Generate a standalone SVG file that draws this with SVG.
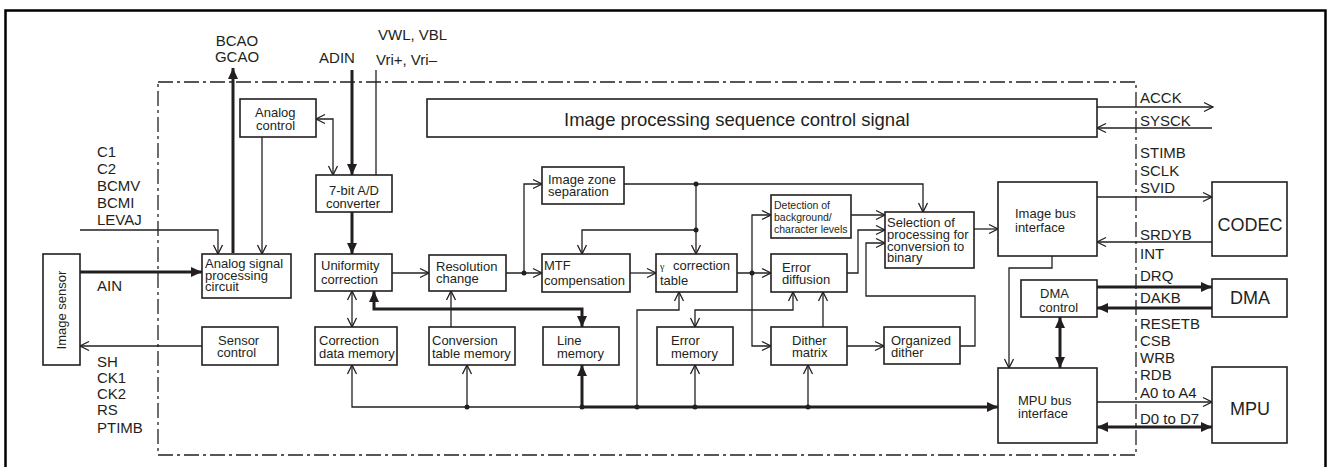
<svg xmlns="http://www.w3.org/2000/svg" width="1329" height="469" viewBox="0 0 1329 469">
<defs>
<style>
.box{fill:#fff;stroke:#231f20;stroke-width:1.6}
.t{font-family:"Liberation Sans",Arial,sans-serif;font-size:13px;fill:#231f20}
.s{font-family:"Liberation Sans",Arial,sans-serif;font-size:10.5px;fill:#231f20}
.l{font-family:"Liberation Sans",Arial,sans-serif;font-size:15px;fill:#231f20}
.b{font-family:"Liberation Sans",Arial,sans-serif;font-size:18px;fill:#231f20}
.big{font-family:"Liberation Sans",Arial,sans-serif;font-size:18.5px;fill:#231f20}
.g{font-family:"Liberation Serif","Times New Roman",serif;font-size:10px}
.thin{fill:none;stroke:#231f20;stroke-width:1.3}
.thick{fill:none;stroke:#231f20;stroke-width:3}
.oa{marker-end:url(#open)}
.oab{marker-start:url(#open);marker-end:url(#open)}
.fa{marker-end:url(#fill)}
.fab{marker-start:url(#fill);marker-end:url(#fill)}
.dot{fill:#231f20}
</style>
<marker id="open" viewBox="-11 -6 13 12" refX="0" refY="0" markerWidth="13" markerHeight="12" markerUnits="userSpaceOnUse" orient="auto-start-reverse">
<path d="M-9,-4.5 L0,0 L-9,4.5" fill="none" stroke="#231f20" stroke-width="1.3"/>
</marker>
<marker id="fill" viewBox="-12 -6 13 12" refX="0" refY="0" markerWidth="13" markerHeight="12" markerUnits="userSpaceOnUse" orient="auto-start-reverse">
<path d="M-11,-5 L0,0 L-11,5 Z" fill="#231f20"/>
</marker>
</defs>

<g id="frame">
<path d="M5.5,467 V10.5 H1325.5 V467" fill="none" stroke="#000" stroke-width="2.5"/>
<rect x="158" y="82" width="978" height="373" fill="none" stroke="#231f20" stroke-width="1.3" stroke-dasharray="15 4 3 4"/>
</g>

<g id="labels">
<text class="l" x="237" y="46" text-anchor="middle">BCAO</text>
<text class="l" x="237" y="62" text-anchor="middle">GCAO</text>
<text class="l" x="337" y="63" text-anchor="middle">ADIN</text>
<text class="l" x="378" y="40">VWL, VBL</text>
<text class="l" x="376" y="65">Vri+, Vri–</text>
<text class="l" x="97" y="157">C1</text>
<text class="l" x="97" y="174">C2</text>
<text class="l" x="97" y="191">BCMV</text>
<text class="l" x="97" y="208">BCMI</text>
<text class="l" x="97" y="225">LEVAJ</text>
<text class="l" x="97" y="291">AIN</text>
<text class="l" x="97" y="367">SH</text>
<text class="l" x="97" y="383">CK1</text>
<text class="l" x="97" y="399">CK2</text>
<text class="l" x="97" y="415">RS</text>
<text class="l" x="97" y="433">PTIMB</text>
<text class="l" x="1140" y="103">ACCK</text>
<text class="l" x="1140" y="126">SYSCK</text>
<text class="l" x="1140" y="158">STIMB</text>
<text class="l" x="1140" y="176">SCLK</text>
<text class="l" x="1140" y="193">SVID</text>
<text class="l" x="1140" y="240">SRDYB</text>
<text class="l" x="1140" y="259">INT</text>
<text class="l" x="1140" y="281">DRQ</text>
<text class="l" x="1140" y="303">DAKB</text>
<text class="l" x="1140" y="329">RESETB</text>
<text class="l" x="1140" y="346">CSB</text>
<text class="l" x="1140" y="363">WRB</text>
<text class="l" x="1140" y="380">RDB</text>
<text class="l" x="1140" y="398">A0 to A4</text>
<text class="l" x="1140" y="424">D0 to D7</text>
</g>

<g id="connectors">
<path class="thick fa" d="M233,253 V68"/>
<path class="thick fa" d="M352,70 V175"/>
<path class="thin" d="M376,70 V175"/>
<path class="thin oab" d="M316,119 H333 V175"/>
<path class="thin oa" d="M262,137 V254"/>
<path class="thin oa" d="M80,230 H218 V254"/>
<path class="thick fa" d="M80,272 H202"/>
<path class="thin oa" d="M202,346 H80"/>
<path class="thick fa" d="M352,212 V254"/>
<path class="thin oab" d="M352,291 V327"/>
<path class="thick fab" d="M374,291 V309 H582 V327"/>
<path class="thin oa" d="M392,273 H429"/>
<path class="thin oa" d="M451,327 V291"/>
<path class="thin oa" d="M506,273 H542"/>
<path class="thin oa" d="M524,273 V184 H542"/>
<path class="thin oa" d="M624,184 H923 V212"/>
<path class="thin oa" d="M696,184 V254"/>
<path class="thin oa" d="M696,230 H582 V254"/>
<path class="thin oa" d="M630,273 H656"/>
<path class="thin oa" d="M737,273 H771"/>
<path class="thin oa" d="M752,273 V215 H771"/>
<path class="thin oa" d="M752,273 V346 H771"/>
<path class="thin oa" d="M851,215 H885"/>
<path class="thin oa" d="M847,273 H858 V230 H885"/>
<path class="thin oa" d="M847,346 H884"/>
<path class="thin oa" d="M960,346 H975 V296 H866 V243 H885"/>
<path class="thin oa" d="M823,327 V292"/>
<path class="thin oab" d="M695,327 V310 H793 V292"/>
<path class="thin" d="M352,365 V407 H582" marker-start="url(#open)"/>
<path class="thin oa" d="M467,407 V365"/>
<path class="thick fa" d="M582,407 H998"/>
<path class="thick fa" d="M582,407 V365"/>
<path class="thin oa" d="M637,407 V310 H679 V292"/>
<path class="thin oa" d="M695,407 V365"/>
<path class="thin oa" d="M808,407 V365"/>
<path class="thin oa" d="M974,229 H998"/>
<path class="thin oa" d="M1052,256 V268 H1009 V368"/>
<path class="thick fab" d="M1060,317 V368"/>
<path class="thin oa" d="M1097,107 H1213"/>
<path class="thin oa" d="M1212,128 H1097"/>
<path class="thin oa" d="M1097,197 H1212"/>
<path class="thin oa" d="M1212,242 H1097"/>
<path class="thick fa" d="M1097,287 H1212"/>
<path class="thick fa" d="M1212,308 H1097"/>
<path class="thin oa" d="M1097,402 H1212"/>
<path class="thick fab" d="M1097,427 H1212"/>
<circle class="dot" cx="524" cy="273" r="2.5"/>
<circle class="dot" cx="696" cy="184" r="2.5"/>
<circle class="dot" cx="696" cy="230" r="2.5"/>
<circle class="dot" cx="752" cy="273" r="2.5"/>
<circle class="dot" cx="467" cy="407" r="2.5"/>
<circle class="dot" cx="582" cy="407" r="2.5"/>
<circle class="dot" cx="637" cy="407" r="2.5"/>
<circle class="dot" cx="695" cy="407" r="2.5"/>
<circle class="dot" cx="808" cy="407" r="2.5"/>
</g>

<g id="image-sensor">
<rect class="box" x="43" y="254" width="37" height="111"/>
<text class="t" transform="translate(66,310) rotate(-90)" text-anchor="middle">Image sensor</text>
</g>
<g id="analog-control">
<rect class="box" x="240" y="99" width="76" height="38"/>
<text class="t" x="255" y="117">Analog</text>
<text class="t" x="256" y="130">control</text>
</g>
<g id="ad-converter">
<rect class="box" x="316" y="175" width="76" height="37"/>
<text class="t" x="354" y="195" text-anchor="middle">7-bit A/D</text>
<text class="t" x="353" y="208" text-anchor="middle">converter</text>
</g>
<g id="analog-signal">
<rect class="box" x="202" y="254" width="89" height="44"/>
<text class="t" x="205" y="268">Analog signal</text>
<text class="t" x="205" y="280">processing</text>
<text class="t" x="205" y="291">circuit</text>
</g>
<g id="sensor-control">
<rect class="box" x="202" y="327" width="76" height="38"/>
<text class="t" x="218" y="345">Sensor</text>
<text class="t" x="217" y="357">control</text>
</g>
<g id="uniformity">
<rect class="box" x="315" y="254" width="77" height="37"/>
<text class="t" x="321" y="270">Uniformity</text>
<text class="t" x="321" y="284">correction</text>
</g>
<g id="correction-memory">
<rect class="box" x="315" y="327" width="82" height="38"/>
<text class="t" x="319" y="345">Correction</text>
<text class="t" x="319" y="358">data memory</text>
</g>
<g id="resolution">
<rect class="box" x="429" y="255" width="77" height="36"/>
<text class="t" x="436" y="271">Resolution</text>
<text class="t" x="436" y="283">change</text>
</g>
<g id="conversion-memory">
<rect class="box" x="429" y="327" width="86" height="38"/>
<text class="t" x="432" y="345">Conversion</text>
<text class="t" x="432" y="358">table memory</text>
</g>
<g id="line-memory">
<rect class="box" x="543" y="327" width="76" height="38"/>
<text class="t" x="557" y="345">Line</text>
<text class="t" x="557" y="358">memory</text>
</g>
<g id="image-zone">
<rect class="box" x="542" y="167" width="82" height="37"/>
<text class="t" x="548" y="184">Image zone</text>
<text class="t" x="548" y="196">separation</text>
</g>
<g id="mtf">
<rect class="box" x="542" y="254" width="88" height="38"/>
<text class="t" x="544" y="270">MTF</text>
<text class="t" x="544" y="285">compensation</text>
</g>
<g id="gamma">
<rect class="box" x="656" y="254" width="81" height="38"/>
<text class="t" x="660" y="270"><tspan class="g">γ</tspan><tspan x="673">correction</tspan></text>
<text class="t" x="660" y="285">table</text>
</g>
<g id="error-memory">
<rect class="box" x="657" y="327" width="76" height="38"/>
<text class="t" x="671" y="345">Error</text>
<text class="t" x="671" y="358">memory</text>
</g>
<g id="detection">
<rect class="box" x="771" y="195" width="80" height="43"/>
<text class="s" x="774" y="209">Detection of</text>
<text class="s" x="774" y="221">background/</text>
<text class="s" x="774" y="233">character levels</text>
</g>
<g id="error-diffusion">
<rect class="box" x="771" y="254" width="76" height="38"/>
<text class="t" x="782" y="272">Error</text>
<text class="t" x="782" y="284">diffusion</text>
</g>
<g id="dither-matrix">
<rect class="box" x="771" y="327" width="76" height="38"/>
<text class="t" x="792" y="345">Dither</text>
<text class="t" x="792" y="357">matrix</text>
</g>
<g id="organized-dither">
<rect class="box" x="884" y="327" width="76" height="37"/>
<text class="t" x="891" y="345">Organized</text>
<text class="t" x="891" y="357">dither</text>
</g>
<g id="selection">
<rect class="box" x="885" y="212" width="89" height="56"/>
<text class="t" x="887" y="227">Selection of</text>
<text class="t" x="887" y="239">processing for</text>
<text class="t" x="887" y="251">conversion to</text>
<text class="t" x="887" y="262">binary</text>
</g>
<g id="sequence-control">
<rect class="box" x="427" y="99" width="670" height="38"/>
<text class="big" x="564" y="126">Image processing sequence control signal</text>
</g>
<g id="image-bus">
<rect class="box" x="998" y="182" width="99" height="74"/>
<text class="t" x="1015" y="218">Image bus</text>
<text class="t" x="1015" y="232">interface</text>
</g>
<g id="dma-control">
<rect class="box" x="1021" y="280" width="76" height="37"/>
<text class="t" x="1040" y="298">DMA</text>
<text class="t" x="1039" y="312">control</text>
</g>
<g id="mpu-bus">
<rect class="box" x="998" y="368" width="99" height="75"/>
<text class="t" x="1018" y="405">MPU bus</text>
<text class="t" x="1018" y="418">interface</text>
</g>
<g id="codec">
<rect class="box" x="1212" y="182" width="75" height="74"/>
<text class="b" x="1250" y="231" text-anchor="middle">CODEC</text>
</g>
<g id="dma">
<rect class="box" x="1212" y="279" width="75" height="38"/>
<text class="b" x="1250" y="304" text-anchor="middle">DMA</text>
</g>
<g id="mpu">
<rect class="box" x="1212" y="367" width="75" height="76"/>
<text class="b" x="1250" y="415" text-anchor="middle">MPU</text>
</g>
</svg>
